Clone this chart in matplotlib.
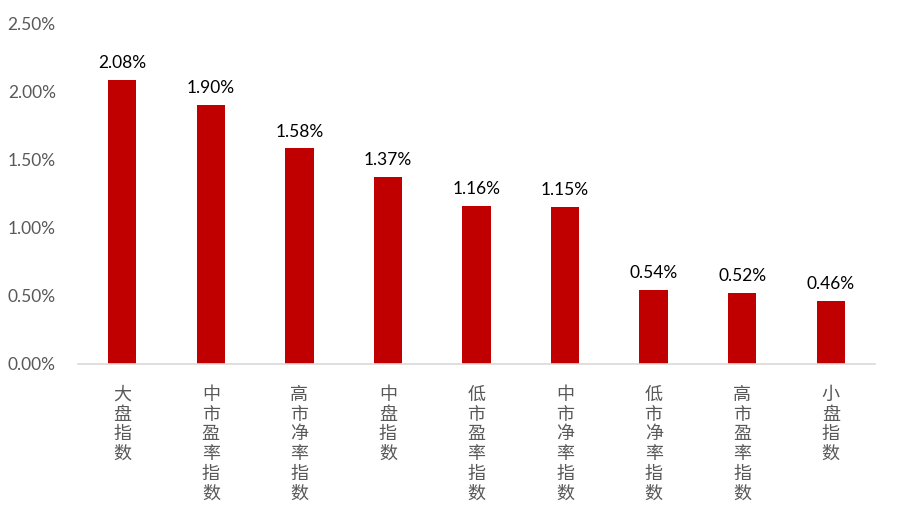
import matplotlib
matplotlib.use("Agg")
import matplotlib.pyplot as plt
from matplotlib.ticker import FuncFormatter

plt.rcParams['font.family'] = ['Lato', 'Noto Sans CJK SC', 'DejaVu Sans']

categories = ['大盘指数', '中市盈率指数', '高市净率指数', '中盘指数', '低市盈率指数',
              '中市净率指数', '低市净率指数', '高市盈率指数', '小盘指数']
values = [2.08, 1.90, 1.58, 1.37, 1.16, 1.15, 0.54, 0.52, 0.46]   # percent
yticks = [0, 0.5, 1.0, 1.5, 2.0, 2.5]

fig = plt.figure(figsize=(9.17, 5.15), dpi=100)
ax = fig.add_axes([78/917, 1-364/515, (875-78)/917, (364-23)/515])

x = range(len(categories))
ax.bar(x, values, width=0.32, color='#C00000', zorder=2)

for xi, v in zip(x, values):
    ax.text(xi, v + 0.065, '%.2f%%' % v, ha='center', va='bottom',
            fontsize=12.5, color='black')

ax.set_xlim(-0.5, len(categories) - 0.5)
ax.set_ylim(0, 2.5)
ax.set_yticks(yticks)
ax.yaxis.set_major_formatter(FuncFormatter(lambda v, p: '%.2f%%' % v))
ax.tick_params(axis='y', length=0, labelsize=12.5, labelcolor='#595959', pad=16)
ax.set_xticks([])

for s in ['top', 'right', 'left']:
    ax.spines[s].set_visible(False)
ax.spines['bottom'].set_color('#D9D9D9')
ax.spines['bottom'].set_linewidth(1.2)

# vertical category labels, one char per line
for xi, name in zip(x, categories):
    ax.text(xi, -0.16, '\n'.join(name), ha='center', va='top', fontsize=13,
            color='#595959', family=['Noto Sans CJK SC'], linespacing=1.12)

fig.savefig('out.png', dpi=100)
